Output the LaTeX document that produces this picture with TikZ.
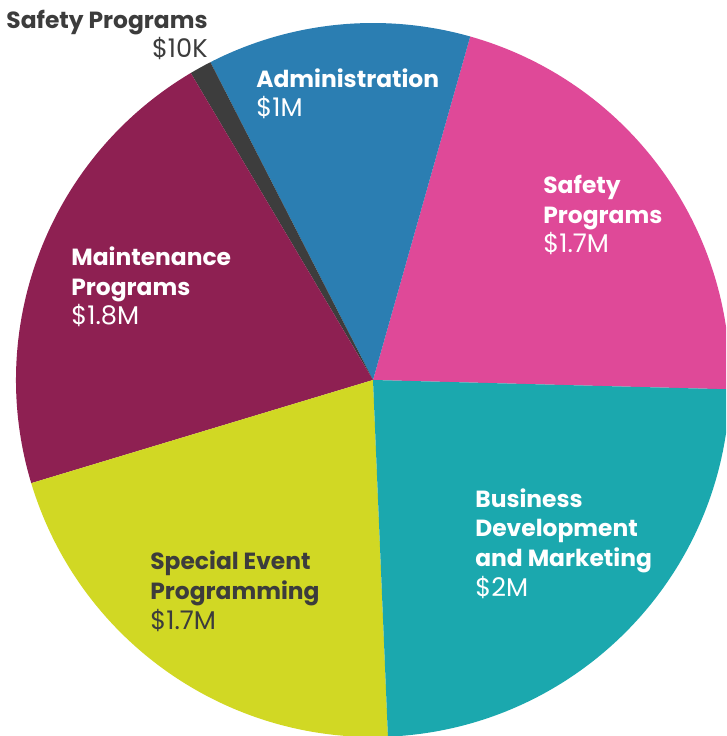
\documentclass[tikz,border=0pt]{standalone}
\usepackage{fontspec}
\setmainfont{Poppins}
\usetikzlibrary{positioning}

\definecolor{safetyPink}{RGB}{223,73,152}
\definecolor{adminBlue}{RGB}{43,126,178}
\definecolor{tinyGray}{RGB}{61,61,61}
\definecolor{maintMaroon}{RGB}{142,32,82}
\definecolor{eventLime}{RGB}{209,216,36}
\definecolor{businessTeal}{RGB}{27,168,174}
\definecolor{labelGray}{RGB}{60,60,60}

\newcommand{\amount}[1]{{\fontsize{14.6}{16.8}\selectfont\$#1}}

\tikzset{
    slicelabel/.style={anchor=base west, align=left, inner sep=0pt, text=white,
        font=\fontsize{13.3}{16.8}\selectfont},
}

\begin{document}
\begin{tikzpicture}[x=0.02cm, y=0.02cm]
\useasboundingbox (-373,-356) rectangle (353,380);
\clip (-373,-356) rectangle (353,380);
\coordinate (O) at (0,0);
\def\R{357}

% slices, counterclockwise from the right
\fill[safetyPink] (O) -- (-1.5:\R) arc (-1.5:74.2:\R) -- cycle;
\fill[adminBlue] (O) -- (74.2:\R) arc (74.2:117.1:\R) -- cycle;
\fill[tinyGray] (O) -- (117.1:\R) arc (117.1:120.7:\R) -- cycle;
\fill[maintMaroon] (O) -- (120.7:\R) arc (120.7:196.8:\R) -- cycle;
\fill[eventLime] (O) -- (196.8:\R) arc (196.8:272.4:\R) -- cycle;
\fill[businessTeal] (O) -- (272.4:\R) arc (272.4:358.5:\R) -- cycle;

% labels (anchored at the baseline of the amount line)
\node[slicelabel, anchor=base east, align=right, text=labelGray] (small) at (-165,322)
    {\textbf{Safety Programs}\\\amount{10K}};
\node[slicelabel] (admin) at (-117,263) {\textbf{Administration}\\\amount{1M}};
\node[slicelabel] (safety) at (170,127) {\textbf{Safety}\\\textbf{Programs}\\\amount{1.7M}};
\node[slicelabel] (maint) at (-302,55) {\textbf{Maintenance}\\\textbf{Programs}\\\amount{1.8M}};
\node[slicelabel] (business) at (102,-216)
    {\textbf{Business}\\\textbf{Development}\\\textbf{and Marketing}\\\amount{2M}};
\node[slicelabel, text=labelGray] (event) at (-223,-249)
    {\textbf{Special Event}\\\textbf{Programming}\\\amount{1.7M}};
\end{tikzpicture}
\end{document}
